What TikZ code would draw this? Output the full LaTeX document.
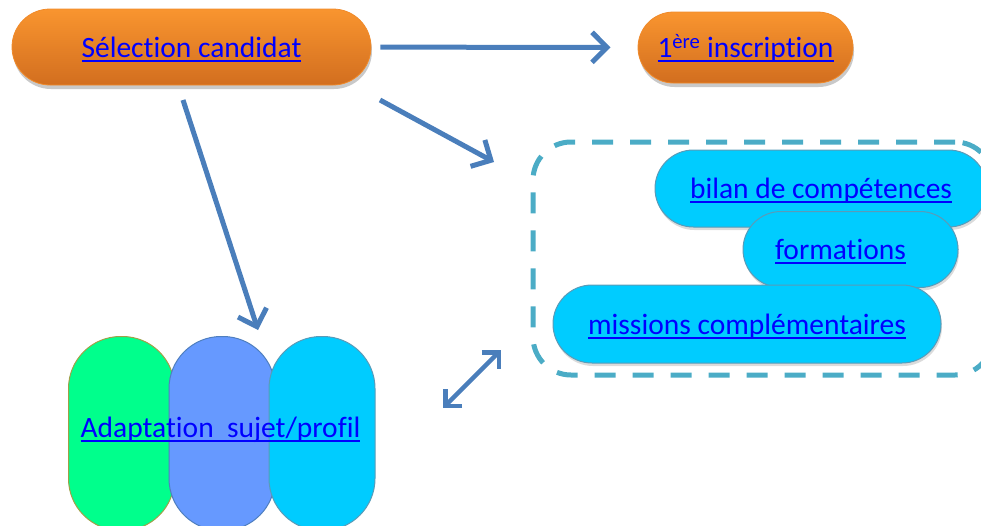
\documentclass[tikz,border=0pt]{standalone}
\usepackage{fontspec}
\setmainfont{Carlito}[Ligatures=NoCommon]
\usetikzlibrary{shapes.misc,arrows.meta,shadows}

\definecolor{orngtop}{HTML}{F9952F}
\definecolor{orngbot}{HTML}{D26E1F}
\definecolor{orngline}{HTML}{F08A2A}
\definecolor{arrowblue}{HTML}{4A7EBB}
\definecolor{pillcyan}{HTML}{00CCFF}
\definecolor{pillline}{HTML}{5A9BB8}
\definecolor{dashcol}{HTML}{4BACC6}
\definecolor{capsgreen}{HTML}{00FF8C}
\definecolor{capsgreenline}{HTML}{A0A048}
\definecolor{capsblue}{HTML}{6699FF}
\definecolor{capsblueline}{HTML}{4F7FBF}
\definecolor{linkblue}{HTML}{0000FF}

% link text: underlined with a thicker rule
\newsavebox{\lnkbox}
\newcommand{\lnk}[1]{\sbox{\lnkbox}{#1}\rlap{\smash{\rule[-4.5pt]{\wd\lnkbox}{1.6pt}}}\usebox{\lnkbox}}

\tikzset{
  linktext/.style={text=linkblue, text height=20pt, text depth=0pt,
    font=\fontsize{29.5}{34}\selectfont},
  pill/.style={rounded rectangle, inner sep=0pt, linktext},
  orangepill/.style={pill, top color=orngtop, bottom color=orngbot,
    draw=orngline, line width=0.8pt,
    drop shadow={shadow xshift=1pt, shadow yshift=-4pt, opacity=0.3, fill=black!70}},
  cyanpill/.style={pill, fill=pillcyan, draw=pillline, line width=1pt,
    drop shadow={shadow xshift=1pt, shadow yshift=-3pt, opacity=0.2, fill=black!70}},
  capsule/.style={rectangle, rounded corners=52pt, minimum width=106pt,
    minimum height=194pt, line width=1pt},
  flow/.style={draw=arrowblue, line width=5pt,
    -{Straight Barb[length=15pt,width=30pt]}},
  twoway/.style={draw=arrowblue, line width=4.5pt,
    {Straight Barb[length=12pt,width=24pt]}-{Straight Barb[length=12pt,width=24pt]}}
}

\begin{document}
\begin{tikzpicture}[x=1pt,y=-1pt]
  \useasboundingbox (0,0) rectangle (981,525);
  \clip (0,0) rectangle (981,525);

  % Top row
  \node (sel) [orangepill, minimum width=359pt, minimum height=76pt] at (191.5,47) {\lnk{Sélection candidat}};
  \node (insc) [orangepill, minimum width=215pt, minimum height=71pt] at (745.5,47.5) {\lnk{1\textsuperscript{ère} inscription}};

  % Group of actions
  \node (grp) [draw=dashcol, line width=5pt, dash pattern=on 21pt off 17pt,
    rounded corners=38pt, minimum width=460pt, minimum height=233pt] at (763,258.5) {};
  \node (bilan) [cyanpill, minimum width=332pt, minimum height=77pt] at (821,188.5) {\lnk{bilan de compétences}};
  \node (form) [cyanpill, minimum width=215pt, minimum height=76pt] at (850.5,249.5) {\lnk{formations}\hspace*{20pt}};
  \node (miss) [cyanpill, minimum width=388pt, minimum height=78pt] at (747,324) {\lnk{missions complémentaires}};

  % Capsules
  \node (capg) [capsule, fill=capsgreen, draw=capsgreenline] at (121.5,433.5) {};
  \node (capb) [capsule, fill=capsblue, draw=capsblueline] at (222,433.5) {};
  \node (capc) [capsule, fill=pillcyan, draw=pillline] at (322,433.5) {};
  \node (adapt) [linktext] at (220.5,427) {\lnk{Adaptation\ \ sujet/profil}};

  % Connectors
  \coordinate (a2s) at (380,100);
  \coordinate (a2e) at (494,162);
  \coordinate (a3s) at (183,100);
  \coordinate (a3e) at (258,330);
  \coordinate (a4s) at (501,350);
  \coordinate (a4e) at (443,408);
  \draw[flow, shorten <=9pt, shorten >=27pt] (sel) -- (insc);
  \draw[flow] (a2s) -- (a2e);
  \draw[flow] (a3s) -- (a3e);
  \draw[twoway] (a4s) -- (a4e);
\end{tikzpicture}
\end{document}
